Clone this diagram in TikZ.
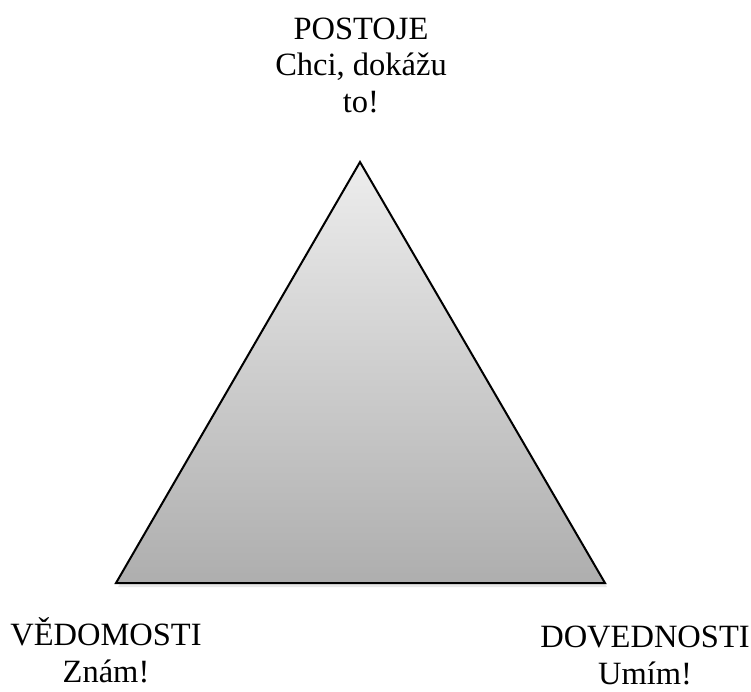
\documentclass[tikz,border=0pt]{standalone}
\usepackage{fontspec}
\setmainfont{Liberation Serif}
\usetikzlibrary{calc}
\definecolor{topgray}{HTML}{EDEDED}
\definecolor{botgray}{HTML}{AEAEAE}
\tikzset{
  lbl/.style={font=\fontsize{32.5}{36.5}\selectfont, align=center, inner sep=0pt, anchor=base},
  tri/.style={draw=black, line width=2pt, line join=miter, top color=topgray, bottom color=botgray}
}
\begin{document}
\begin{tikzpicture}[x=1pt,y=-1pt]
\useasboundingbox (0,0) rectangle (751,691);
\coordinate (A) at (360,162);
\coordinate (B) at (116,583);
\coordinate (C) at (605,583);
\fill[black!25, opacity=0.35] ($(B)+(2,4)$) -- ($(C)+(2,4)$) -- ($(A)+(2,4)$) -- cycle;
\draw[tri] (A) -- (C) -- (B) -- cycle;
\node[lbl] (top) at (361,112) {POSTOJE\\Chci, dokážu\\to!};
\node[lbl] (left) at (106,682) {VĚDOMOSTI\\Znám!};
\node[lbl] (right) at (645,684) {DOVEDNOSTI\\Umím!};
\end{tikzpicture}
\end{document}
